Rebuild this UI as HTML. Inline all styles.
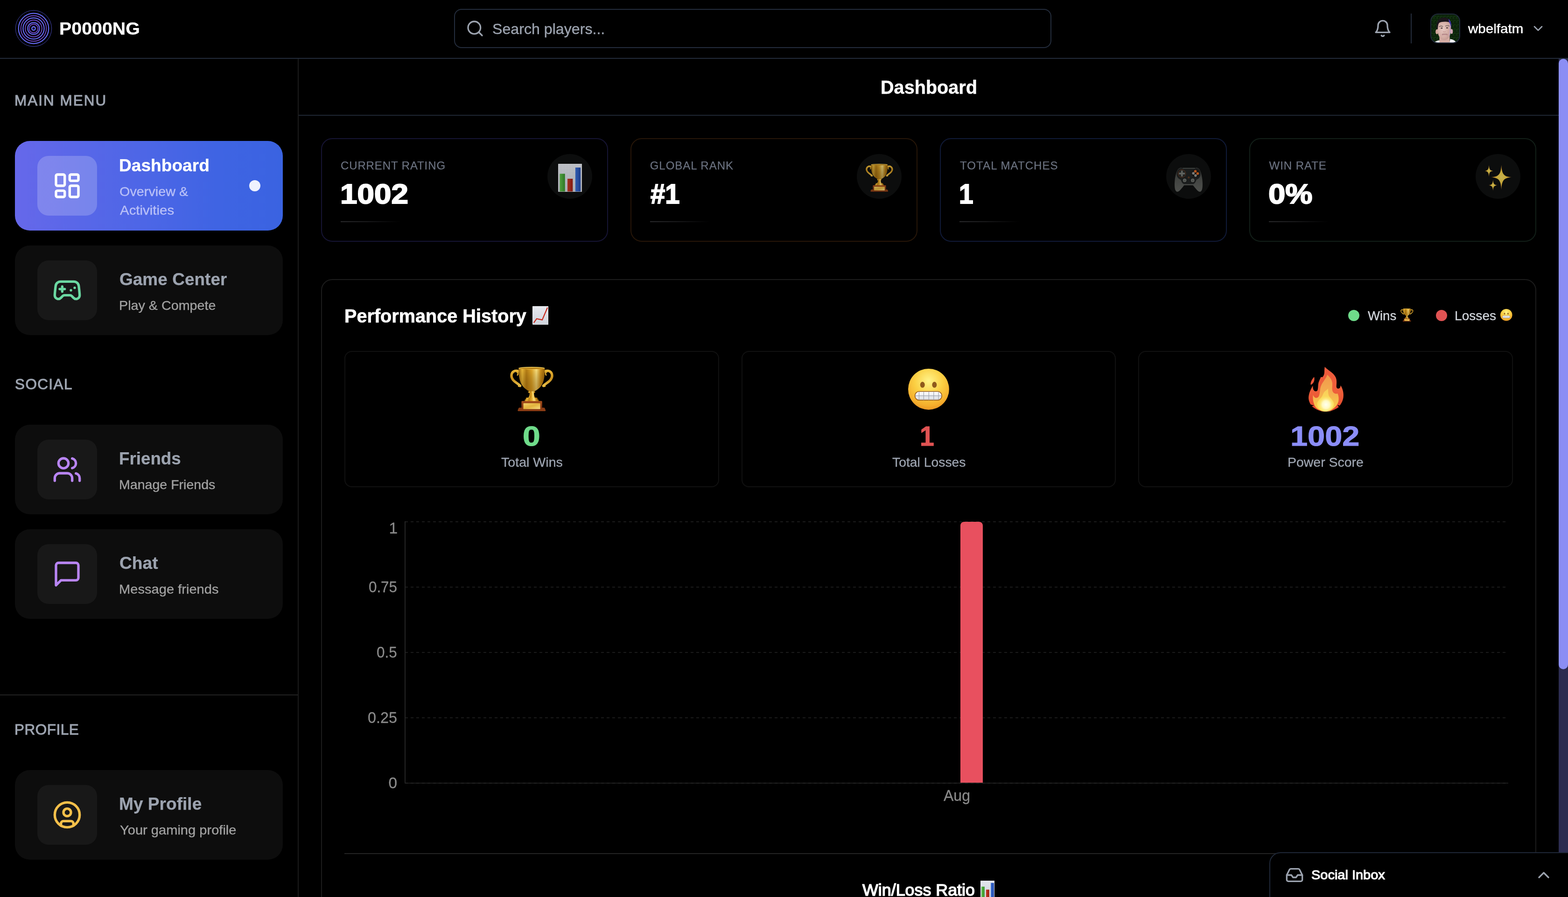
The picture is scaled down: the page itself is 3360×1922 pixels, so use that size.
<!DOCTYPE html>
<html lang="en">
<head>
<meta charset="utf-8">
<title>P0000NG - Dashboard</title>
<style>
html{font-size:calc(100vw / 33.6);}
html,body{margin:0;padding:0;background:#000;overflow:hidden;}
body{width:33.6rem;height:19.22rem;overflow:hidden;position:relative;font-family:"Liberation Sans",sans-serif;color:#fff;}
#root{position:absolute;left:0;top:0;width:33.6rem;height:19.22rem;overflow:hidden;background:#000;}
.a{position:absolute;display:block;box-sizing:border-box;}
.t{position:absolute;white-space:pre;margin:0;padding:0;transform-origin:0 50%;}
.card{background:#0d0d0d;border-radius:0.32rem;width:5.74rem;height:1.92rem;left:0.32rem;}
.ib{background:#181818;border-radius:0.24rem;width:1.28rem;height:1.28rem;left:0.8rem;}
.stat{width:6.15rem;height:2.22rem;top:2.96rem;border-radius:0.24rem;border:0.02rem solid #161434;background:#000;}
.circ{width:0.96rem;height:0.96rem;top:3.3rem;border-radius:50%;background:#0c0d0d;}
.gl{height:0.02rem;top:4.74rem;width:1.28rem;background:linear-gradient(90deg,#2a2a2c 0%,#1a1a1c 45%,rgba(0,0,0,0) 100%);}
.box{top:7.52rem;height:2.92rem;width:8.0267rem;border:0.02rem solid #111;border-radius:0.16rem;background:#000;}
.grid{left:8.68rem;width:23.59rem;height:0.02rem;background:repeating-linear-gradient(90deg,#1b1b1b 0 0.06rem,transparent 0.06rem 0.12rem);}
</style>
</head>

<body>
<div id="root">
<svg class="a" style="left:0;top:0;width:0;height:0"><defs><linearGradient id="gCup" x1="0" y1="0" x2="1" y2="0">
 <stop offset="0" stop-color="#a06a0c"/><stop offset=".14" stop-color="#eebb38"/><stop offset=".3" stop-color="#b97f14"/>
 <stop offset=".5" stop-color="#e3a828"/><stop offset=".68" stop-color="#ffe480"/><stop offset=".84" stop-color="#cf9019"/><stop offset="1" stop-color="#9a640a"/>
</linearGradient>
<linearGradient id="gCupV" x1="0" y1="0" x2="0" y2="1">
 <stop offset="0" stop-color="#000" stop-opacity="0"/><stop offset="1" stop-color="#7a4a00" stop-opacity=".45"/>
</linearGradient>
<linearGradient id="gHandle" x1="0" y1="5" x2="0" y2="45" gradientUnits="userSpaceOnUse">
 <stop offset="0" stop-color="#edbc3c"/><stop offset=".5" stop-color="#c98f1c"/><stop offset="1" stop-color="#f2cc55"/>
</linearGradient>
<linearGradient id="gBase" x1="0" y1="0" x2="0" y2="1">
 <stop offset="0" stop-color="#a8501c"/><stop offset="1" stop-color="#7a3010"/>
</linearGradient>
<linearGradient id="gPlate" x1="0" y1="0" x2="1" y2="1">
 <stop offset="0" stop-color="#f3d069"/><stop offset=".5" stop-color="#e2b23c"/><stop offset="1" stop-color="#f7dc82"/>
</linearGradient>
<radialGradient id="gFace" cx=".5" cy=".3" r=".75">
 <stop offset="0" stop-color="#fff48a"/><stop offset=".45" stop-color="#fbd044"/><stop offset=".8" stop-color="#f5ae2c"/><stop offset="1" stop-color="#e58d22"/>
</radialGradient>
<linearGradient id="gTeeth" x1="0" y1="0" x2="0" y2="1">
 <stop offset="0" stop-color="#ffffff"/><stop offset="1" stop-color="#d9dde3"/>
</linearGradient>
<linearGradient id="gFire1" x1="0" y1="0" x2="0" y2="1">
 <stop offset="0" stop-color="#ec5a3c"/><stop offset=".55" stop-color="#ee5f3a"/><stop offset="1" stop-color="#e2452a"/>
</linearGradient>
<linearGradient id="gFire2" x1="0" y1="0" x2="0" y2="1">
 <stop offset="0" stop-color="#f09a4a"/><stop offset=".45" stop-color="#f4ab50"/><stop offset="1" stop-color="#fbd24a"/>
</linearGradient>
<linearGradient id="gFire3" x1="0" y1="0" x2="0" y2="1">
 <stop offset="0" stop-color="#f8cc58"/><stop offset="1" stop-color="#ffea60"/>
</linearGradient>
<radialGradient id="gFire4" cx=".5" cy=".5" r=".5">
 <stop offset="0" stop-color="#fffff0"/><stop offset=".45" stop-color="#fff9c0"/><stop offset="1" stop-color="#fde35c" stop-opacity="0"/>
</radialGradient>
<linearGradient id="gPaper" x1="0" y1="0" x2="0" y2="1">
 <stop offset="0" stop-color="#eceef4"/><stop offset="1" stop-color="#d2d6de"/>
</linearGradient>
<linearGradient id="gBarG" x1="0" y1="0" x2="1" y2="0"><stop offset="0" stop-color="#5fc04a"/><stop offset="1" stop-color="#36902c"/></linearGradient>
<linearGradient id="gBarR" x1="0" y1="0" x2="1" y2="0"><stop offset="0" stop-color="#c93a28"/><stop offset="1" stop-color="#9c1c12"/></linearGradient>
<linearGradient id="gBarB" x1="0" y1="0" x2="1" y2="0"><stop offset="0" stop-color="#3a6fd6"/><stop offset="1" stop-color="#2248a8"/></linearGradient>
<linearGradient id="gPad" x1="0" y1="0" x2="0" y2="1">
 <stop offset="0" stop-color="#3a3c3a"/><stop offset=".5" stop-color="#4c4e4b"/><stop offset="1" stop-color="#5a5c58"/>
</linearGradient>
<radialGradient id="gStar" cx=".5" cy=".5" r=".5">
 <stop offset="0" stop-color="#e6cf5c"/><stop offset=".45" stop-color="#e7c13f"/><stop offset="1" stop-color="#e8902c"/>
</radialGradient>
<pattern id="pGrid" width="2.4" height="2.4" patternUnits="userSpaceOnUse">
 <path d="M0 0H2.4M0 0V2.4" stroke="#b9c0cf" stroke-width=".45" fill="none"/>
</pattern></defs></svg>
<div class="a" style="left:0;top:1.24rem;width:33.6rem;height:0.02rem;background:#222b3a"></div>
<svg class="a" style="left:0.32rem;top:0.21rem;width:0.8rem;height:0.8rem" viewBox="0 0 80 80" fill="none"><circle cx="40" cy="40" r="38.7" stroke="#5558d6" stroke-width="1.0" opacity="0.8"/><circle cx="40" cy="40" r="32.3" stroke="#6468f2" stroke-width="2.2" opacity="1"/><circle cx="40" cy="40" r="27.3" stroke="#7a4fd8" stroke-width="1.7" opacity="1"/><circle cx="40" cy="40" r="22.6" stroke="#6468f2" stroke-width="2.2" opacity="1"/><circle cx="40" cy="40" r="17.9" stroke="#7a4fd8" stroke-width="1.7" opacity="1"/><circle cx="40" cy="40" r="12.6" stroke="#6468f2" stroke-width="2.2" opacity="1"/><circle cx="40" cy="40" r="9.4" stroke="#7a4fd8" stroke-width="1.7" opacity="1"/><circle cx="40" cy="40" r="3.7" stroke="#6468f2" stroke-width="2.4" opacity="1"/></svg>
<div class="a" style="left:9.73rem;top:0.19rem;width:12.8rem;height:0.84rem;border:0.02rem solid #242d3d;border-radius:0.16rem"></div>
<svg class="a" style="left:9.98rem;top:0.41rem;width:0.4rem;height:0.4rem" viewBox="0 0 24 24" fill="none" stroke="#9ca3af" stroke-width="2" stroke-linecap="round" stroke-linejoin="round"><circle cx="11" cy="11" r="8"/><path d="m21 21-4.350-4.350"/></svg>
<svg class="a" style="left:29.43rem;top:0.41rem;width:0.4rem;height:0.4rem" viewBox="0 0 24 24" fill="none" stroke="#9ca3af" stroke-width="2" stroke-linecap="round" stroke-linejoin="round"><path d="M6 8a6 6 0 0 1 12 0c0 7 3 9 3 9H3s3-2 3-9"/><path d="M10.300 21a1.940 1.940 0 0 0 3.400 0"/></svg>
<div class="a" style="left:30.23rem;top:0.29rem;width:0.02rem;height:0.64rem;background:#252d3d"></div>
<svg class="a" style="left:30.65rem;top:0.29rem;width:0.64rem;height:0.64rem" viewBox="0 0 64 64">
<defs><clipPath id="avc"><rect x="1.500" y="1.500" width="61" height="61" rx="15"/></clipPath>
<filter id="avb" x="-10%" y="-10%" width="120%" height="120%"><feGaussianBlur stdDeviation="0.55"/></filter>
<pattern id="avp" width="7" height="9" patternUnits="userSpaceOnUse"><rect width="7" height="9" fill="#071607"/>
<rect x=".6" y="0" width="1.300" height="2.400" fill="#1e5017"/><rect x=".6" y="3.200" width="1.300" height="1.800" fill="#174013"/><rect x=".6" y="6" width="1.300" height="2.200" fill="#23601c"/>
<rect x="3" y="1.200" width="1.200" height="2" fill="#143811"/><rect x="3" y="4.400" width="1.200" height="2.600" fill="#1e5317"/><rect x="3" y="7.600" width="1.200" height="1.200" fill="#11310e"/>
<rect x="5.300" y=".4" width="1.100" height="1.800" fill="#1e5017"/><rect x="5.300" y="3" width="1.100" height="2.400" fill="#12350f"/><rect x="5.300" y="6.200" width="1.100" height="2.200" fill="#1c4b16"/></pattern>
<radialGradient id="avf" cx=".42" cy=".45" r=".7"><stop offset="0" stop-color="#e6c8c2"/><stop offset=".6" stop-color="#d4aca4"/><stop offset="1" stop-color="#b88f88"/></radialGradient></defs>
<g clip-path="url(#avc)">
<rect width="64" height="64" fill="url(#avp)"/>
<g filter="url(#avb)">
<path d="M6 66C8 60 14 58 19.500 57.200L21 62H41L42.500 54.500C49 55.500 55 58.500 58 66Z" fill="#eeeef2"/>
<path d="M19.500 47H41.500V63H19.500Z" fill="#d6ada4"/>
<ellipse cx="14" cy="39" rx="2.800" ry="5.200" fill="#d2a59a"/>
<ellipse cx="45.600" cy="38.500" rx="2.600" ry="5.200" fill="#d3a8b4"/>
<path d="M15 30C15 18 21 13.500 29.500 13.500C38 13.500 44.200 18 44.200 30C44.200 40 42.500 47 39 52C36.500 55.500 33 57 29.800 57C26.500 57 23 55.500 20.500 52C17 47 15 40 15 30Z" fill="url(#avf)"/>
<path d="M40 20C42.500 24 43.800 30 43.600 38C43 44 41.500 48.500 39.500 51.500C41 45 41.500 38 41 30Z" fill="#b9a6e6" opacity=".55"/>
<path d="M13.600 33.500C12.200 22 14.500 9 29 8.500C39.500 8.200 46 15 44.800 31.500C43.800 25 42.300 20.500 39.800 18.500C34 16.800 24 17 19.200 19.800C16.700 22.500 16.200 28 16 33.500Z" fill="#1a171c"/>
<path d="M38.500 11.500C43.300 14 45.600 20 44.800 31.500C43.800 25 42.300 20.500 39.800 18.500C39.800 16 39.300 13.500 38.500 11.500Z" fill="#4338c8" opacity=".8"/>
<path d="M19 28.200C21 26.600 24.500 26.600 26.700 27.800M32.400 27C34.500 25.600 38.500 25.600 40.500 26.800" stroke="#6a5a58" stroke-width="1.400" fill="none" stroke-linecap="round"/>
<ellipse cx="24.300" cy="31.300" rx="2.200" ry="1.300" fill="#4a3838"/><ellipse cx="35.900" cy="30.800" rx="2.200" ry="1.300" fill="#4a3838"/>
<path d="M27.500 38.500C28.500 39.600 31.500 39.600 32.500 38.500" stroke="#c79a94" stroke-width="1.200" fill="none" stroke-linecap="round"/>
<path d="M25.500 45.400C28 44.500 34 44.500 36.500 45.400" stroke="#ad7a80" stroke-width="1.700" fill="none" stroke-linecap="round"/>
<path d="M26 43.300C29 42.400 33 42.400 36 43.300" stroke="#b8968f" stroke-width="1.300" fill="none" stroke-linecap="round" opacity=".75"/>
</g>
</g>
<rect x="1" y="1" width="62" height="62" rx="15.500" fill="none" stroke="#202a3a" stroke-width="2"/>
</svg>
<svg class="a" style="left:32.8rem;top:0.45rem;width:0.32rem;height:0.32rem" viewBox="0 0 24 24" fill="none" stroke="#9ca3af" stroke-width="2" stroke-linecap="round" stroke-linejoin="round"><path d="m6 9 6 6 6-6"/></svg>
<div class="a" style="left:6.38rem;top:1.26rem;width:0.02rem;height:17.96rem;background:#1c1c1c"></div>
<div class="a" style="left:0;top:14.88rem;width:6.38rem;height:0.02rem;background:#222"></div>
<div class="a card" style="top:3.02rem;background:linear-gradient(90deg,#6668ea 0%,#5867e8 25%,#4c66e6 50%,#3f64e3 75%,#3a63e1 100%)"></div>
<div class="a ib" style="top:3.34rem;background:rgba(255,255,255,.2)"></div>
<svg class="a" style="left:1.12rem;top:3.66rem;width:0.64rem;height:0.64rem" viewBox="0 0 24 24" fill="none" stroke="#fff" stroke-width="2" stroke-linecap="round" stroke-linejoin="round"><rect width="7" height="9" x="3" y="3" rx="1"/><rect width="7" height="5" x="14" y="3" rx="1"/><rect width="7" height="9" x="14" y="12" rx="1"/><rect width="7" height="5" x="3" y="16" rx="1"/></svg>
<div class="a" style="left:5.34rem;top:3.86rem;width:0.24rem;height:0.24rem;border-radius:50%;background:#eff2fe"></div>
<div class="a card" style="top:5.26rem"></div>
<div class="a ib" style="top:5.58rem"></div>
<svg class="a" style="left:1.12rem;top:5.9rem;width:0.64rem;height:0.64rem" viewBox="0 0 24 24" fill="none" stroke="#6bd8a2" stroke-width="2" stroke-linecap="round" stroke-linejoin="round"><line x1="6" x2="10" y1="11" y2="11"/><line x1="8" x2="8" y1="9" y2="13"/><line x1="15" x2="15.010" y1="12" y2="12"/><line x1="18" x2="18.010" y1="10" y2="10"/><path d="M17.320 5H6.680a4 4 0 0 0-3.978 3.590c-.006.052-.010.101-.017.152C2.604 9.416 2 14.456 2 16a3 3 0 0 0 3 3c1 0 1.500-.500 2-1l1.414-1.414A2 2 0 0 1 9.828 16h4.344a2 2 0 0 1 1.414.586L17 18c.500.500 1 1 2 1a3 3 0 0 0 3-3c0-1.545-.604-6.584-.685-7.258-.007-.050-.011-.100-.017-.151A4 4 0 0 0 17.320 5z"/></svg>
<div class="a card" style="top:9.1rem"></div>
<div class="a ib" style="top:9.42rem"></div>
<svg class="a" style="left:1.12rem;top:9.74rem;width:0.64rem;height:0.64rem" viewBox="0 0 24 24" fill="none" stroke="#b985f5" stroke-width="2" stroke-linecap="round" stroke-linejoin="round"><path d="M16 21v-2a4 4 0 0 0-4-4H6a4 4 0 0 0-4 4v2"/><circle cx="9" cy="7" r="4"/><path d="M22 21v-2a4 4 0 0 0-3-3.870"/><path d="M16 3.130a4 4 0 0 1 0 7.750"/></svg>
<div class="a card" style="top:11.34rem"></div>
<div class="a ib" style="top:11.66rem"></div>
<svg class="a" style="left:1.12rem;top:11.98rem;width:0.64rem;height:0.64rem" viewBox="0 0 24 24" fill="none" stroke="#b985f5" stroke-width="2" stroke-linecap="round" stroke-linejoin="round"><path d="M21 15a2 2 0 0 1-2 2H7l-4 4V5a2 2 0 0 1 2-2h14a2 2 0 0 1 2 2z"/></svg>
<div class="a card" style="top:16.5rem"></div>
<div class="a ib" style="top:16.82rem"></div>
<svg class="a" style="left:1.12rem;top:17.14rem;width:0.64rem;height:0.64rem" viewBox="0 0 24 24" fill="none" stroke="#f5c04a" stroke-width="2" stroke-linecap="round" stroke-linejoin="round"><circle cx="12" cy="12" r="10"/><circle cx="12" cy="10" r="3"/><path d="M7 20.662V19a2 2 0 0 1 2-2h6a2 2 0 0 1 2 2v1.662"/></svg>
<div class="a" style="left:6.4rem;top:2.46rem;width:27rem;height:0.02rem;background:#1f2633"></div>
<div class="a stat" style="left:6.88rem;border-color:#161434"></div>
<div class="a gl" style="left:7.3rem"></div>
<div class="a circ" style="left:11.73rem"></div>
<div class="a stat" style="left:13.51rem;border-color:#271608"></div>
<div class="a gl" style="left:13.93rem"></div>
<div class="a circ" style="left:18.36rem"></div>
<div class="a stat" style="left:20.14rem;border-color:#101a38"></div>
<div class="a gl" style="left:20.56rem"></div>
<div class="a circ" style="left:24.99rem"></div>
<div class="a stat" style="left:26.77rem;border-color:#121f18"></div>
<div class="a gl" style="left:27.19rem"></div>
<div class="a circ" style="left:31.62rem"></div>
<svg class="a" style="left:11.955rem;top:3.51rem;width:0.513rem;height:0.6rem;opacity:0.82;" viewBox="0 0 51.3 60" preserveAspectRatio="none" role="img"><title>📊</title><rect x="0" y="0" width="51.300" height="60" rx="1" fill="url(#gPaper)"/>
 <rect x="0" y="0" width="51.300" height="60" rx="1" fill="url(#pGrid)"/>
 <rect x=".4" y=".4" width="50.500" height="59.200" rx="1" fill="none" stroke="#f4f5f8" stroke-width=".8"/>
 <rect x="3.500" y="21.300" width="11.200" height="38" fill="url(#gBarG)"/>
 <rect x="20" y="32" width="11.300" height="27.300" fill="url(#gBarR)"/>
 <rect x="36.900" y="8" width="11.200" height="51.300" fill="url(#gBarB)"/></svg>
<svg class="a" style="left:18.548rem;top:3.51rem;width:0.588rem;height:0.6rem;opacity:0.82;" viewBox="0 0 93 96" preserveAspectRatio="none" role="img"><title>🏆</title><path d="M19.500 10C10 5.500 2.500 11.500 3 20C3.800 30.500 15.500 34 21.500 40.800" fill="none" stroke="url(#gHandle)" stroke-width="5.400" stroke-linecap="round"/>
 <path d="M13.500 10.500C17 11.500 18 15 15.800 17.800" fill="none" stroke="#e3ad2e" stroke-width="2.600" stroke-linecap="round"/>
 <path d="M21.500 40.800C20.500 42.500 18.800 42.500 17.800 41.500" fill="none" stroke="#e6b438" stroke-width="2.400" stroke-linecap="round"/>
 <path d="M73.500 10C83 5.500 90.500 11.500 90 20C89.200 30.500 77.500 34 71.500 40.800" fill="none" stroke="url(#gHandle)" stroke-width="5.400" stroke-linecap="round"/>
 <path d="M79.500 10.500C76 11.500 75 15 77.200 17.800" fill="none" stroke="#e3ad2e" stroke-width="2.600" stroke-linecap="round"/>
 <path d="M71.500 40.800C72.500 42.500 74.200 42.500 75.200 41.500" fill="none" stroke="#e6b438" stroke-width="2.400" stroke-linecap="round"/>
 <path d="M18.200 2.600C18.200 20 19.800 32 27.500 42C31.500 47 37.500 51 41.400 52.600L52.100 52.600C56 51 62 47 66 42C73.200 32 74.400 20 74.400 2.600Z" fill="url(#gCup)"/>
 <path d="M18.200 2.600C18.200 20 19.800 32 27.500 42C31.500 47 37.500 51 41.400 52.600L52.100 52.600C56 51 62 47 66 42C73.200 32 74.400 20 74.400 2.600Z" fill="url(#gCupV)"/>
 <ellipse cx="46.300" cy="2.700" rx="28.100" ry="2.700" fill="#f3d061"/>
 <ellipse cx="46.300" cy="3.300" rx="26" ry="1.700" fill="#b98216"/>
 <path d="M41.900 55H51.200C51.200 60 51.800 64.500 55 67.500L38 67.500C41.200 64.500 41.900 60 41.900 55Z" fill="url(#gCup)"/>
 <rect x="38.700" y="52.400" width="15.200" height="3.800" rx="1.900" fill="url(#gCup)"/>
 <rect x="33.500" y="66.300" width="25.600" height="4.200" rx="2.100" fill="url(#gCup)"/>
 <rect x="31.200" y="69.800" width="30.200" height="5.200" rx="2.600" fill="url(#gCup)"/>
 <rect x="24.400" y="73.600" width="44.300" height="15.500" rx="1.500" fill="url(#gBase)"/>
 <path d="M18.300 88.800C18.600 88 19.300 87.800 20.200 87.800H72.400C73.300 87.800 74 88 74.300 88.800L76.200 93.300C76.500 94.700 75.600 95.500 74.200 95.500H18.400C17 95.500 16.100 94.700 16.400 93.300Z" fill="#8a3c14"/>
 <rect x="28.500" y="78.300" width="36.100" height="12.700" rx=".9" fill="url(#gPlate)"/></svg>
<svg class="a" style="left:25.172rem;top:3.52rem;width:0.6rem;height:0.6rem;opacity:0.85;" viewBox="0 0 60 60" preserveAspectRatio="none" role="img"><title>🎮</title><path d="M7.400 10.500C9 8.500 12 7 14.500 7.200L17.300 8.400H43.700L46 7.200C48.500 7 51.500 8.500 53 10.500C56 14.500 58.500 24 59.500 34C60.400 43 60 51 58.500 55C57 58.500 55 59.200 53 58.700C50 58 46 53 43 49.500C41.500 47.700 40 45.100 38.800 45.100H21C19.800 45.100 18.500 47.700 17 49.500C14 53 10 58 7 58.700C5 59.200 3 58.500 1.500 55C0 51 -0.400 43 .5 34C1.500 24 4.400 14.500 7.400 10.500Z" fill="url(#gPad)"/>
 <path d="M8 11C10 9 13 8 15 8.200L17.300 9.200H43.700L45.500 8.200C47.500 8 50.500 9 52.500 11C55 14 56 19 55.500 23C54.500 29 50 32 47 33C45 38 43 42 39.500 42.500H20.500C17 42 15 38 13 33C10 32 5.500 29 4.500 23C4 19 5.500 14 8 11Z" fill="#1e2020"/>
 <path d="M17.300 8.400H43.700" stroke="#6c6f6c" stroke-width="1" fill="none"/>
 <circle cx="15.700" cy="19.900" r="8.200" fill="#232525" stroke="#8a3c14" stroke-width=".7"/>
 <path d="M13.800 13.500H17.600V18H22.100V21.800H17.600V26.300H13.800V21.800H9.300V18H13.800Z" fill="#6e716d"/>
 <circle cx="44.900" cy="19.500" r="8.600" fill="#151717"/>
 <circle cx="44.500" cy="15" r="2.800" fill="#d2611f"/>
 <circle cx="49.500" cy="19.800" r="2.800" fill="#d2611f"/>
 <circle cx="40.200" cy="19.300" r="2.800" fill="#8b8d8a"/>
 <circle cx="44.900" cy="24.100" r="2.800" fill="#8b8d8a"/>
 <circle cx="21.600" cy="34.400" r="5.200" fill="#141616"/>
 <circle cx="38.750" cy="34.400" r="5.200" fill="#141616"/>
 <circle cx="21.600" cy="34.400" r="3.900" fill="#6c6f6b"/>
 <circle cx="38.750" cy="34.400" r="3.900" fill="#6c6f6b"/>
 <circle cx="21.600" cy="34.800" r="2.500" fill="#585b57"/>
 <circle cx="38.750" cy="34.800" r="2.500" fill="#585b57"/>
 <circle cx="30.300" cy="28.300" r="1.400" fill="none" stroke="#b4521c" stroke-width=".7"/></svg>
<svg class="a" style="left:31.816rem;top:3.54rem;width:0.58rem;height:0.56rem;opacity:0.85;" viewBox="0 0 58 56" preserveAspectRatio="none" role="img"><title>✨</title><path d="M35.20 -0.80C36.29 19.42 40.43 24.47 57.00 25.80C40.43 27.13 36.29 32.18 35.20 52.40C34.11 32.18 29.97 27.13 13.40 25.80C29.97 24.47 34.11 19.42 35.20 -0.80Z" fill="url(#gStar)"/>
 <path d="M8.60 -0.40C9.13 8.92 10.91 11.44 17.50 12.20C10.91 12.96 9.13 15.48 8.60 24.80C8.07 15.48 6.29 12.96 -0.30 12.20C6.29 11.44 8.07 8.92 8.60 -0.40Z" fill="url(#gStar)"/>
 <path d="M17.30 31.30C17.85 39.88 19.67 42.20 26.40 42.90C19.67 43.60 17.85 45.92 17.30 54.50C16.75 45.92 14.93 43.60 8.20 42.90C14.93 42.20 16.75 39.88 17.30 31.30Z" fill="url(#gStar)"/></svg>
<div class="a" style="left:6.88rem;top:5.98rem;width:26.04rem;height:14rem;border:0.02rem solid #1c1c1c;border-radius:0.24rem"></div>
<svg class="a" style="left:11.405rem;top:6.562rem;width:0.347rem;height:0.394rem;" viewBox="0 0 34.7 39.4" preserveAspectRatio="none" role="img"><title>📈</title><rect x="0" y="0" width="34.700" height="39.400" rx="1" fill="url(#gPaper)"/>
 <rect x="0" y="0" width="34.700" height="39.400" rx="1" fill="url(#pGrid)" opacity=".6"/>
 <rect x=".4" y=".4" width="33.900" height="38.600" rx="1" fill="none" stroke="#f6f7fa" stroke-width=".8"/>
 <path d="M2.800 35.700L9 26.900L20.900 29.400L32.200 3" fill="none" stroke="#c8281c" stroke-width="2.200" stroke-linejoin="miter" stroke-linecap="butt"/></svg>
<div class="a" style="left:28.89rem;top:6.638rem;width:0.24rem;height:0.24rem;border-radius:50%;background:#6fdb8a"></div>
<svg class="a" style="left:30.014rem;top:6.61rem;width:0.276rem;height:0.279rem;" viewBox="0 0 93 96" preserveAspectRatio="none" role="img"><title>🏆</title><path d="M19.500 10C10 5.500 2.500 11.500 3 20C3.800 30.500 15.500 34 21.500 40.800" fill="none" stroke="url(#gHandle)" stroke-width="5.400" stroke-linecap="round"/>
 <path d="M13.500 10.500C17 11.500 18 15 15.800 17.800" fill="none" stroke="#e3ad2e" stroke-width="2.600" stroke-linecap="round"/>
 <path d="M21.500 40.800C20.500 42.500 18.800 42.500 17.800 41.500" fill="none" stroke="#e6b438" stroke-width="2.400" stroke-linecap="round"/>
 <path d="M73.500 10C83 5.500 90.500 11.500 90 20C89.200 30.500 77.500 34 71.500 40.800" fill="none" stroke="url(#gHandle)" stroke-width="5.400" stroke-linecap="round"/>
 <path d="M79.500 10.500C76 11.500 75 15 77.200 17.800" fill="none" stroke="#e3ad2e" stroke-width="2.600" stroke-linecap="round"/>
 <path d="M71.500 40.800C72.500 42.500 74.200 42.500 75.200 41.500" fill="none" stroke="#e6b438" stroke-width="2.400" stroke-linecap="round"/>
 <path d="M18.200 2.600C18.200 20 19.800 32 27.500 42C31.500 47 37.500 51 41.400 52.600L52.100 52.600C56 51 62 47 66 42C73.200 32 74.400 20 74.400 2.600Z" fill="url(#gCup)"/>
 <path d="M18.200 2.600C18.200 20 19.800 32 27.500 42C31.500 47 37.500 51 41.400 52.600L52.100 52.600C56 51 62 47 66 42C73.200 32 74.400 20 74.400 2.600Z" fill="url(#gCupV)"/>
 <ellipse cx="46.300" cy="2.700" rx="28.100" ry="2.700" fill="#f3d061"/>
 <ellipse cx="46.300" cy="3.300" rx="26" ry="1.700" fill="#b98216"/>
 <path d="M41.900 55H51.200C51.200 60 51.800 64.500 55 67.500L38 67.500C41.200 64.500 41.900 60 41.900 55Z" fill="url(#gCup)"/>
 <rect x="38.700" y="52.400" width="15.200" height="3.800" rx="1.900" fill="url(#gCup)"/>
 <rect x="33.500" y="66.300" width="25.600" height="4.200" rx="2.100" fill="url(#gCup)"/>
 <rect x="31.200" y="69.800" width="30.200" height="5.200" rx="2.600" fill="url(#gCup)"/>
 <rect x="24.400" y="73.600" width="44.300" height="15.500" rx="1.500" fill="url(#gBase)"/>
 <path d="M18.300 88.800C18.600 88 19.300 87.800 20.200 87.800H72.400C73.300 87.800 74 88 74.300 88.800L76.200 93.300C76.500 94.700 75.600 95.500 74.200 95.500H18.400C17 95.500 16.100 94.700 16.400 93.300Z" fill="#8a3c14"/>
 <rect x="28.500" y="78.300" width="36.100" height="12.700" rx=".9" fill="url(#gPlate)"/></svg>
<div class="a" style="left:30.77rem;top:6.638rem;width:0.24rem;height:0.24rem;border-radius:50%;background:#e05353"></div>
<svg class="a" style="left:32.154rem;top:6.623rem;width:0.256rem;height:0.256rem;" viewBox="0 0 88 88" preserveAspectRatio="none" role="img"><title>😬</title><circle cx="44" cy="44" r="44" fill="url(#gFace)"/>
 <ellipse cx="30.800" cy="34.500" rx="5" ry="6.400" fill="#8f5a1c"/>
 <ellipse cx="56.500" cy="34.500" rx="5" ry="6.400" fill="#8f5a1c"/>
 <rect x="14.700" y="48.800" width="57.600" height="18.700" rx="9" fill="url(#gTeeth)" stroke="#9a5f1c" stroke-width="1.700"/>
 <path d="M15 58.200H72M23.500 50V66.500M33.400 49V67.500M44.400 49V67.500M54.900 49V67.500M65.300 50V66.500" stroke="#9aa0aa" stroke-width="1.100" fill="none"/></svg>
<div class="a box" style="left:7.38rem"></div>
<div class="a box" style="left:15.8867rem"></div>
<div class="a box" style="left:24.3933rem"></div>
<svg class="a" style="left:10.927rem;top:7.862rem;width:0.93rem;height:0.956rem;" viewBox="0 0 93 96" preserveAspectRatio="none" role="img"><title>🏆</title><path d="M19.500 10C10 5.500 2.500 11.500 3 20C3.800 30.500 15.500 34 21.500 40.800" fill="none" stroke="url(#gHandle)" stroke-width="5.400" stroke-linecap="round"/>
 <path d="M13.500 10.500C17 11.500 18 15 15.800 17.800" fill="none" stroke="#e3ad2e" stroke-width="2.600" stroke-linecap="round"/>
 <path d="M21.500 40.800C20.500 42.500 18.800 42.500 17.800 41.500" fill="none" stroke="#e6b438" stroke-width="2.400" stroke-linecap="round"/>
 <path d="M73.500 10C83 5.500 90.500 11.500 90 20C89.200 30.500 77.500 34 71.500 40.800" fill="none" stroke="url(#gHandle)" stroke-width="5.400" stroke-linecap="round"/>
 <path d="M79.500 10.500C76 11.500 75 15 77.200 17.800" fill="none" stroke="#e3ad2e" stroke-width="2.600" stroke-linecap="round"/>
 <path d="M71.500 40.800C72.500 42.500 74.200 42.500 75.200 41.500" fill="none" stroke="#e6b438" stroke-width="2.400" stroke-linecap="round"/>
 <path d="M18.200 2.600C18.200 20 19.800 32 27.500 42C31.500 47 37.500 51 41.400 52.600L52.100 52.600C56 51 62 47 66 42C73.200 32 74.400 20 74.400 2.600Z" fill="url(#gCup)"/>
 <path d="M18.200 2.600C18.200 20 19.800 32 27.500 42C31.500 47 37.500 51 41.400 52.600L52.100 52.600C56 51 62 47 66 42C73.200 32 74.400 20 74.400 2.600Z" fill="url(#gCupV)"/>
 <ellipse cx="46.300" cy="2.700" rx="28.100" ry="2.700" fill="#f3d061"/>
 <ellipse cx="46.300" cy="3.300" rx="26" ry="1.700" fill="#b98216"/>
 <path d="M41.900 55H51.200C51.200 60 51.800 64.500 55 67.500L38 67.500C41.200 64.500 41.900 60 41.900 55Z" fill="url(#gCup)"/>
 <rect x="38.700" y="52.400" width="15.200" height="3.800" rx="1.900" fill="url(#gCup)"/>
 <rect x="33.500" y="66.300" width="25.600" height="4.200" rx="2.100" fill="url(#gCup)"/>
 <rect x="31.200" y="69.800" width="30.200" height="5.200" rx="2.600" fill="url(#gCup)"/>
 <rect x="24.400" y="73.600" width="44.300" height="15.500" rx="1.500" fill="url(#gBase)"/>
 <path d="M18.300 88.800C18.600 88 19.300 87.800 20.200 87.800H72.400C73.300 87.800 74 88 74.300 88.800L76.200 93.300C76.500 94.700 75.600 95.500 74.200 95.500H18.400C17 95.500 16.100 94.700 16.400 93.300Z" fill="#8a3c14"/>
 <rect x="28.500" y="78.300" width="36.100" height="12.700" rx=".9" fill="url(#gPlate)"/></svg>
<svg class="a" style="left:19.463rem;top:7.901rem;width:0.878rem;height:0.879rem;" viewBox="0 0 88 88" preserveAspectRatio="none" role="img"><title>😬</title><circle cx="44" cy="44" r="44" fill="url(#gFace)"/>
 <ellipse cx="30.800" cy="34.500" rx="5" ry="6.400" fill="#8f5a1c"/>
 <ellipse cx="56.500" cy="34.500" rx="5" ry="6.400" fill="#8f5a1c"/>
 <rect x="14.700" y="48.800" width="57.600" height="18.700" rx="9" fill="url(#gTeeth)" stroke="#9a5f1c" stroke-width="1.700"/>
 <path d="M15 58.200H72M23.500 50V66.500M33.400 49V67.500M44.400 49V67.500M54.900 49V67.500M65.300 50V66.500" stroke="#9aa0aa" stroke-width="1.100" fill="none"/></svg>
<svg class="a" style="left:27.93rem;top:7.86rem;width:0.96rem;height:0.96rem;" viewBox="0 0 96 96" preserveAspectRatio="none" role="img"><title>🔥</title><path d="M45.700 0C52 7 64 12 69 22C73 30 70 40 71 44C72.500 48 77 47 78.500 44.500C79.500 43 79.500 41 79.700 39.800C84 46 87 56 85.500 66C84.500 73 81 79 77.900 83.100C75.500 82.500 74 82 73 81.500C74 84 75 85 76 86C68 92 58 96 46.600 96C36 96 26 91 18 84.500C20 84 21.500 83.500 22.500 82.500C19.500 82 17 81.200 15.400 80.400C11.500 74 10.500 68 11.400 62.600C12.500 54 17 46 20.300 40.200C20.300 44 20.500 48 22.500 50.500C25 53.500 29.500 53 30.600 49.200C32 44 31 39 32.400 34C34 29 36 25 37.700 21.500C39 22.500 40.500 22.500 41.300 21.500C44.500 18 45 14 45 9C45 6 45.300 3 45.700 0Z" fill="url(#gFire1)"/>
 <path d="M23 21.500C24.500 27 23 32 20.500 35C18.500 37.500 16.500 38.500 15.800 38.500C14.500 34 18 27 23 21.500Z" fill="#ea5638"/>
 <path d="M51.100 17C57 22 61 28 61.800 34C62.600 41 60.500 47 62.700 52.700C64.500 57 70 58.500 73.400 57.200C75.500 62 76.200 68 75.200 73.300C74 80 68 88 60 92C56 94 51 95.500 46.600 95.500C40 95.500 32 92.500 27 87C22 81 19.500 70 20.700 59.900C22 64 25 67 28.500 66.500C33 66 34 61 35 56C36 49 36 45 37.700 41.100C39.500 36 43 32 44.900 28.600C47.500 25 50 21 51.100 17Z" fill="url(#gFire2)"/>
 <path d="M52.900 46.500C53.500 52 52.500 57 54.500 62C57 67 63 71 65 77C67 84 60 92 51 95.200C49 95.700 47 95.700 45 95.500C36 94 29.500 88 29.500 80C29.500 74 34.500 70 38 66C41.500 62 42 58 44 55C46.500 51 51 49.500 52.900 46.500Z" fill="url(#gFire3)"/>
 <ellipse cx="48.400" cy="81" rx="18" ry="19" fill="url(#gFire4)"/></svg>
<div class="a grid" style="top:11.17rem"></div>
<div class="a grid" style="top:12.57rem"></div>
<div class="a grid" style="top:13.97rem"></div>
<div class="a grid" style="top:15.37rem"></div>
<div class="a" style="left:8.67rem;top:11.17rem;width:0.02rem;height:5.62rem;background:#262626"></div>
<div class="a" style="left:8.67rem;top:16.77rem;width:23.65rem;height:0.02rem;background:#1b1b1b"></div>
<div class="a grid" style="top:16.77rem;background:repeating-linear-gradient(90deg,#242424 0 0.06rem,transparent 0.06rem 0.12rem)"></div>
<div class="a" style="left:20.58rem;top:11.18rem;width:0.48rem;height:5.59rem;background:#e8505f;border-radius:0.08rem 0.08rem 0 0"></div>
<div class="a" style="left:7.38rem;top:18.28rem;width:25.04rem;height:0.02rem;background:#242424"></div>
<svg class="a" style="left:21.006rem;top:18.868rem;width:0.308rem;height:0.36rem;" viewBox="0 0 51.3 60" preserveAspectRatio="none" role="img"><title>📊</title><rect x="0" y="0" width="51.300" height="60" rx="1" fill="url(#gPaper)"/>
 <rect x="0" y="0" width="51.300" height="60" rx="1" fill="url(#pGrid)"/>
 <rect x=".4" y=".4" width="50.500" height="59.200" rx="1" fill="none" stroke="#f4f5f8" stroke-width=".8"/>
 <rect x="3.500" y="21.300" width="11.200" height="38" fill="url(#gBarG)"/>
 <rect x="20" y="32" width="11.300" height="27.300" fill="url(#gBarR)"/>
 <rect x="36.900" y="8" width="11.200" height="51.300" fill="url(#gBarB)"/></svg>
<div class="a" style="left:33.4rem;top:1.26rem;width:0.2rem;height:17.96rem;background:#2c2c50"></div>
<div class="a" style="left:33.4rem;top:1.26rem;width:0.2rem;height:13.08rem;background:#8b8ef4;border-radius:0.1rem"></div>
<div class="a" style="left:27.2rem;top:18.26rem;width:7rem;height:2rem;border:0.02rem solid #1f2838;border-radius:0.24rem 0 0 0;background:#000"></div>
<svg class="a" style="left:27.54rem;top:18.55rem;width:0.4rem;height:0.4rem" viewBox="0 0 24 24" fill="none" stroke="#9ca3af" stroke-width="2" stroke-linecap="round" stroke-linejoin="round"><polyline points="22 12 16 12 14 15 10 15 8 12 2 12"/><path d="M5.450 5.110 2 12v6a2 2 0 0 0 2 2h16a2 2 0 0 0 2-2v-6l-3.450-6.890A2 2 0 0 0 16.760 4H7.240a2 2 0 0 0-1.790 1.110z"/></svg>
<svg class="a" style="left:32.88rem;top:18.55rem;width:0.4rem;height:0.4rem" viewBox="0 0 24 24" fill="none" stroke="#9ca3af" stroke-width="2" stroke-linecap="round" stroke-linejoin="round"><path d="m18 15-6-6-6 6"/></svg>
<div class="t" style="left:1.2748rem;top:0.4005rem;font-size:0.365rem;line-height:0.44rem;color:#fff;font-weight:700;-webkit-text-stroke:0.0025rem #fff;transform:scaleX(1.0786);">P0000NG</div>
<div class="t" style="left:10.5523rem;top:0.4393rem;font-size:0.305rem;line-height:0.37rem;color:#9ca3af;-webkit-text-stroke:0.0035rem #9ca3af;transform:scaleX(1.0544);">Search players...</div>
<div class="t" style="left:31.463rem;top:0.4412rem;font-size:0.285rem;line-height:0.34rem;color:#fff;-webkit-text-stroke:0.005rem #fff;transform:scaleX(1.0369);">wbelfatm</div>
<div class="t" style="left:0.3145rem;top:1.9663rem;font-size:0.305rem;line-height:0.37rem;color:#9ca3af;letter-spacing:0.01985rem;-webkit-text-stroke:0.01rem #9ca3af;transform:scaleX(1.0300);">MAIN MENU</div>
<div class="t" style="left:0.3248rem;top:8.0473rem;font-size:0.305rem;line-height:0.37rem;color:#9ca3af;letter-spacing:0.01391rem;-webkit-text-stroke:0.01rem #9ca3af;transform:scaleX(1.0300);">SOCIAL</div>
<div class="t" style="left:0.3145rem;top:15.4503rem;font-size:0.305rem;line-height:0.37rem;color:#9ca3af;letter-spacing:0.00528rem;-webkit-text-stroke:0.01rem #9ca3af;transform:scaleX(1.0300);">PROFILE</div>
<div class="t" style="left:2.5529rem;top:3.3255rem;font-size:0.365rem;line-height:0.44rem;color:#fff;font-weight:700;-webkit-text-stroke:0.0025rem #fff;transform:scaleX(1.0166);">Dashboard</div>
<div class="t" style="left:2.5637rem;top:3.9292rem;font-size:0.285rem;line-height:0.34rem;color:#b9c0f7;-webkit-text-stroke:0.0035rem #b9c0f7;transform:scaleX(1.0101);">Overview &amp;</div>
<div class="t" style="left:2.5738rem;top:4.3312rem;font-size:0.285rem;line-height:0.34rem;color:#b9c0f7;-webkit-text-stroke:0.0035rem #b9c0f7;transform:scaleX(1.0334);">Activities</div>
<div class="t" style="left:2.5631rem;top:5.7655rem;font-size:0.365rem;line-height:0.44rem;color:#9ca3af;font-weight:700;-webkit-text-stroke:0.0025rem #9ca3af;transform:scaleX(1.0140);">Game Center</div>
<div class="t" style="left:2.5536rem;top:6.3742rem;font-size:0.285rem;line-height:0.34rem;color:#a1a1a1;-webkit-text-stroke:0.0035rem #a1a1a1;transform:scaleX(1.0077);">Play &amp; Compete</div>
<div class="t" style="left:2.5531rem;top:9.6055rem;font-size:0.365rem;line-height:0.44rem;color:#9ca3af;font-weight:700;-webkit-text-stroke:0.0025rem #9ca3af;transform:scaleX(1.0071);">Friends</div>
<div class="t" style="left:2.5537rem;top:10.2142rem;font-size:0.285rem;line-height:0.34rem;color:#a1a1a1;-webkit-text-stroke:0.0035rem #a1a1a1;transform:scaleX(1.0022);">Manage Friends</div>
<div class="t" style="left:2.5631rem;top:11.8455rem;font-size:0.365rem;line-height:0.44rem;color:#9ca3af;font-weight:700;-webkit-text-stroke:0.0025rem #9ca3af;transform:scaleX(1.0174);">Chat</div>
<div class="t" style="left:2.5534rem;top:12.4542rem;font-size:0.285rem;line-height:0.34rem;color:#a1a1a1;-webkit-text-stroke:0.0035rem #a1a1a1;transform:scaleX(1.0212);">Message friends</div>
<div class="t" style="left:2.5529rem;top:17.0055rem;font-size:0.365rem;line-height:0.44rem;color:#9ca3af;font-weight:700;-webkit-text-stroke:0.0025rem #9ca3af;transform:scaleX(1.0164);">My Profile</div>
<div class="t" style="left:2.5738rem;top:17.6142rem;font-size:0.285rem;line-height:0.34rem;color:#a1a1a1;-webkit-text-stroke:0.0035rem #a1a1a1;transform:scaleX(1.0204);">Your gaming profile</div>
<div class="t" style="left:18.8722rem;top:1.6314rem;font-size:0.4rem;line-height:0.48rem;color:#fff;font-weight:700;-webkit-text-stroke:0.004rem #fff;transform:scaleX(0.9908);">Dashboard</div>
<div class="t" style="left:7.2992rem;top:3.4038rem;font-size:0.24rem;line-height:0.29rem;color:#6b7280;letter-spacing:0.00903rem;-webkit-text-stroke:0.0025rem #6b7280;">CURRENT RATING</div>
<div class="t" style="left:7.2856rem;top:3.8083rem;font-size:0.585rem;line-height:0.7rem;color:#fff;font-weight:700;-webkit-text-stroke:0.02rem #fff;transform:scaleX(1.1206);">1002</div>
<div class="t" style="left:13.9272rem;top:3.4038rem;font-size:0.24rem;line-height:0.29rem;color:#6b7280;letter-spacing:0.00976rem;-webkit-text-stroke:0.0025rem #6b7280;">GLOBAL RANK</div>
<div class="t" style="left:13.936rem;top:3.8083rem;font-size:0.585rem;line-height:0.7rem;color:#fff;font-weight:700;-webkit-text-stroke:0.02rem #fff;transform:scaleX(0.9607);">#1</div>
<div class="t" style="left:20.5703rem;top:3.4038rem;font-size:0.24rem;line-height:0.29rem;color:#6b7280;letter-spacing:0.01092rem;-webkit-text-stroke:0.0025rem #6b7280;">TOTAL MATCHES</div>
<div class="t" style="left:20.5502rem;top:3.8083rem;font-size:0.585rem;line-height:0.7rem;color:#fff;font-weight:700;-webkit-text-stroke:0.02rem #fff;transform:scaleX(0.9400);">1</div>
<div class="t" style="left:27.1962rem;top:3.4038rem;font-size:0.24rem;line-height:0.29rem;color:#6b7280;letter-spacing:0.00959rem;-webkit-text-stroke:0.0025rem #6b7280;">WIN RATE</div>
<div class="t" style="left:27.1838rem;top:3.8083rem;font-size:0.585rem;line-height:0.7rem;color:#fff;font-weight:700;-webkit-text-stroke:0.02rem #fff;transform:scaleX(1.1169);">0%</div>
<div class="t" style="left:7.3811rem;top:6.5251rem;font-size:0.398rem;line-height:0.48rem;color:#fff;font-weight:700;-webkit-text-stroke:0.006rem #fff;transform:scaleX(0.9960);">Performance History</div>
<div class="t" style="left:29.3107rem;top:6.5932rem;font-size:0.285rem;line-height:0.34rem;color:#d1d5db;-webkit-text-stroke:0.0035rem #d1d5db;transform:scaleX(0.9664);">Wins</div>
<div class="t" style="left:31.166rem;top:6.5932rem;font-size:0.285rem;line-height:0.34rem;color:#d1d5db;-webkit-text-stroke:0.0035rem #d1d5db;transform:scaleX(0.9864);">Losses</div>
<div class="t" style="left:11.1983rem;top:8.9966rem;font-size:0.59rem;line-height:0.71rem;color:#6fdb8a;font-weight:700;-webkit-text-stroke:0.01rem #6fdb8a;transform:scaleX(1.1500);">0</div>
<div class="t" style="left:19.7145rem;top:8.9966rem;font-size:0.59rem;line-height:0.71rem;color:#e05353;font-weight:700;-webkit-text-stroke:0.01rem #e05353;transform:scaleX(0.9400);">1</div>
<div class="t" style="left:27.6548rem;top:8.9966rem;font-size:0.59rem;line-height:0.71rem;color:#8b8df8;font-weight:700;-webkit-text-stroke:0.01rem #8b8df8;transform:scaleX(1.1300);">1002</div>
<div class="t" style="left:10.7368rem;top:9.7292rem;font-size:0.285rem;line-height:0.34rem;color:#9ca3af;-webkit-text-stroke:0.0035rem #9ca3af;transform:scaleX(1.0034);">Total Wins</div>
<div class="t" style="left:19.1167rem;top:9.7292rem;font-size:0.285rem;line-height:0.34rem;color:#9ca3af;-webkit-text-stroke:0.0035rem #9ca3af;transform:scaleX(0.9942);">Total Losses</div>
<div class="t" style="left:27.5933rem;top:9.7292rem;font-size:0.285rem;line-height:0.34rem;color:#9ca3af;-webkit-text-stroke:0.0035rem #9ca3af;transform:scaleX(0.9978);">Power Score</div>
<div class="t" style="left:8.3345rem;top:11.1179rem;font-size:0.335rem;line-height:0.4rem;color:#8a8a8a;-webkit-text-stroke:0.003rem #8a8a8a;">1</div>
<div class="t" style="left:7.9rem;top:12.3799rem;font-size:0.335rem;line-height:0.4rem;color:#8a8a8a;letter-spacing:-0.00084rem;-webkit-text-stroke:0.003rem #8a8a8a;transform:scaleX(0.9400);">0.75</div>
<div class="t" style="left:8.073rem;top:13.7799rem;font-size:0.335rem;line-height:0.4rem;color:#8a8a8a;letter-spacing:-0.00013rem;-webkit-text-stroke:0.003rem #8a8a8a;transform:scaleX(0.9400);">0.5</div>
<div class="t" style="left:7.8798rem;top:15.1789rem;font-size:0.335rem;line-height:0.4rem;color:#8a8a8a;-webkit-text-stroke:0.003rem #8a8a8a;transform:scaleX(0.9676);">0.25</div>
<div class="t" style="left:8.3245rem;top:16.5789rem;font-size:0.335rem;line-height:0.4rem;color:#8a8a8a;-webkit-text-stroke:0.003rem #8a8a8a;">0</div>
<div class="t" style="left:20.2215rem;top:16.8477rem;font-size:0.33rem;line-height:0.4rem;color:#8a8a8a;-webkit-text-stroke:0.003rem #8a8a8a;transform:scaleX(0.9711);">Aug</div>
<div class="t" style="left:28.1049rem;top:18.581rem;font-size:0.28rem;line-height:0.34rem;color:#fff;-webkit-text-stroke:0.012rem #fff;transform:scaleX(1.0345);">Social Inbox</div>
<div class="t" style="left:18.4847rem;top:18.8607rem;font-size:0.35rem;line-height:0.42rem;color:#fff;-webkit-text-stroke:0.015rem #fff;transform:scaleX(1.0238);">Win/Loss Ratio</div>
</div>
</body>
</html>
